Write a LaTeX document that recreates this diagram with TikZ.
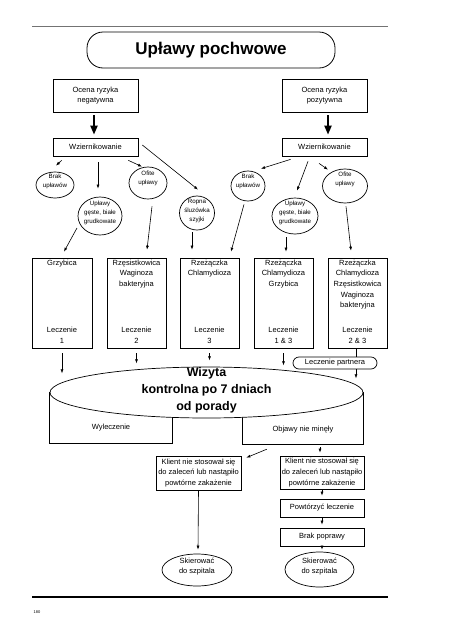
\documentclass[tikz,border=0pt]{standalone}
\usepackage{fontspec}
\setmainfont{Liberation Sans}
\usetikzlibrary{shapes.geometric,arrows.meta}
\begin{document}
\begin{tikzpicture}[x=1pt,y=-1pt,
  box/.style={draw, line width=0.7pt, rectangle, inner sep=0pt, align=center, font=\fontsize{7.5}{10.6}\selectfont},
  plain/.style={rectangle, inner sep=0pt},
  ell/.style={draw, ellipse, line width=0.7pt, inner sep=0pt},
  elbl/.style={align=center, inner sep=0pt, font=\fontsize{6.2}{9.2}\selectfont},
  blbl/.style={align=center, inner sep=0pt, font=\fontsize{7.5}{10.6}\selectfont},
  wlbl/.style={align=center, inner sep=0pt, font=\fontsize{12.5}{17}\selectfont\bfseries},
  arr/.style={-{Latex[length=4pt,width=3pt]}, line width=0.6pt},
  bigarr/.style={-{Triangle[length=9pt,width=7pt]}, line width=2pt},
  outline/.style={line width=0.7pt}
]
\useasboundingbox (0,0) rectangle (452,640);
\draw[black!55, line width=1.3pt] (32,26.7) -- (388,26.7);
\draw[line width=1.3pt] (32,597) -- (388,597);
\node[font=\fontsize{4}{4}\selectfont, inner sep=0pt] (pg) at (37,612) {180};

% title
\node[draw, rounded corners=16pt, minimum width=248pt, minimum height=36pt, inner sep=0pt, line width=0.8pt,
      font=\fontsize{17}{19}\selectfont\bfseries] (title) at (211,50) {Upławy pochwowe};

% risk boxes
\node[box, minimum width=85pt, minimum height=33pt] (neg) at (95.5,95.5) {Ocena ryzyka\\negatywna};
\node[box, minimum width=85pt, minimum height=33pt] (poz) at (324.5,95.5) {Ocena ryzyka\\pozytywna};
\node[box, minimum width=85pt, minimum height=18pt] (wz1) at (95.5,147) {Wziernikowanie};
\node[box, minimum width=85pt, minimum height=18pt] (wz2) at (324.5,147) {Wziernikowanie};
\draw[bigarr] ([shift={(-1.5,3)}]neg.south) -- ([shift={(-1.5,-3)}]wz1.north);
\draw[bigarr] ([shift={(3.5,3)}]poz.south) -- ([shift={(3.5,-3)}]wz2.north);

% ellipses left
\node[ell, minimum width=38pt, minimum height=26pt, label={[elbl,yshift=4pt]center:Brak\\upławów}] (brak1) at (55,185) {};
\node[ell, minimum width=44pt, minimum height=38pt, label={[elbl,yshift=3.3pt]center:Upławy\\gęste, białe\\grudkowate}] (gest1) at (100,216) {};
\node[ell, minimum width=38pt, minimum height=32pt, label={[elbl,yshift=4.5pt]center:Ofite\\upławy}] (ofite1) at (148,183) {};
\node[ell, minimum width=35pt, minimum height=34pt, label={[elbl,yshift=2pt]center:Ropna\\śluzówka\\szyjki}] (ropna) at (197,213) {};
% ellipses right
\node[ell, minimum width=34pt, minimum height=30pt, label={[elbl,yshift=5pt]center:Brak\\upławów}] (brak2) at (248,186) {};
\node[ell, minimum width=46pt, minimum height=36pt, label={[elbl,yshift=3.3pt]center:Upławy\\gęste, białe\\grudkowate}] (gest2) at (295,216) {};
\node[ell, minimum width=45pt, minimum height=34pt, label={[elbl,yshift=7pt]center:Ofite\\upławy}] (ofite2) at (345,186) {};

% diagnosis boxes
\node[box, minimum width=60pt, minimum height=90pt,
  label={[blbl,anchor=north,yshift=-2pt]north:Grzybica},
  label={[blbl,anchor=south,yshift=5pt]south:Leczenie\\1}] (b1) at (62,303) {};
\node[box, minimum width=59pt, minimum height=90pt,
  label={[blbl,anchor=north,yshift=-2pt]north:Rzęsistkowica\\Waginoza\\bakteryjna},
  label={[blbl,anchor=south,yshift=5pt]south:Leczenie\\2}] (b2) at (136.5,303) {};
\node[box, minimum width=59pt, minimum height=90pt,
  label={[blbl,anchor=north,yshift=-2pt]north:Rzeżączka\\Chlamydioza},
  label={[blbl,anchor=south,yshift=5pt]south:Leczenie\\3}] (b3) at (209.5,303) {};
\node[box, minimum width=59pt, minimum height=90pt,
  label={[blbl,anchor=north,yshift=-2pt]north:Rzeżączka\\Chlamydioza\\Grzybica},
  label={[blbl,anchor=south,yshift=5pt]south:Leczenie\\1 \& 3}] (b4) at (283.5,303) {};
\node[box, minimum width=59pt, minimum height=90pt,
  label={[blbl,anchor=north,yshift=-2pt]north:Rzeżączka\\Chlamydioza\\Rzęsistkowica\\Waginoza\\bakteryjna},
  label={[blbl,anchor=south,yshift=5pt]south:Leczenie\\2 \& 3}] (b5) at (357.5,303) {};

% connectors upper left
\draw[arr] ([shift={(9,4)}]wz1.south west) -- ([shift={(1,-6)}]brak1.north);
\draw[arr] ([shift={(2.5,6)}]wz1.south) -- ([shift={(-2,-8)}]gest1.north);
\draw[arr] ([shift={(-10,4)}]wz1.south east) -- ([shift={(-6,0)}]ofite1.north);
\draw[arr] ([shift={(4,-2)}]wz1.east) -- ([shift={(1,-6)}]ropna.north);
\draw[arr] ([shift={(-23,12)}]gest1.center) -- ([shift={(2,-6)}]b1.north);
\draw[arr] ([shift={(4,7)}]ofite1.south) -- ([shift={(10.5,-8)}]b2.north);
\draw[arr] ([shift={(-5,2)}]ropna.south) -- ([shift={(-17.5,-8)}]b3.north);
% connectors upper right
\draw[arr] ([shift={(9,3)}]wz2.south west) -- ([shift={(13,-2)}]brak2.north);
\draw[arr] ([shift={(-16.5,5)}]wz2.south) -- ([shift={(2,-7)}]gest2.north);
\draw[arr] ([shift={(-5.5,7)}]wz2.south) -- ([shift={(-17,1)}]ofite2.north);
\draw[arr] ([shift={(-4,3)}]brak2.south) -- ([shift={(21.5,-6)}]b3.north);
\draw[arr] ([shift={(-9,3)}]gest2.south) -- ([shift={(2.5,-6)}]b4.north);
\draw[arr] ([shift={(1,3)}]ofite2.south) -- ([shift={(-6.5,-7)}]b5.north);

% visit: cylinder parts
\node[plain, minimum width=122pt, minimum height=51pt, label={[blbl,yshift=-10.5pt]center:Wyleczenie}] (wyl) at (111,417.5) {};
\draw[outline] (wyl.north west) -- (wyl.south west) -- (wyl.south east) -- (wyl.north east);
\node[plain, minimum width=120pt, minimum height=52pt, label={[blbl,yshift=-12pt]center:Objawy nie minęły}] (obj) at (303,418) {};
\draw[outline] (obj.north west) -- (obj.south west) -- (obj.south east) -- (obj.north east);
\node[ell, fill=white, minimum width=313pt, minimum height=51pt,
  label={[wlbl,yshift=2.5pt]center:Wizyta\\kontrolna po 7 dniach\\od porady}] (wiz) at (206.5,392.5) {};

% partner treatment
\node[box, rounded corners=6pt, minimum width=84pt, minimum height=12pt] (pam) at (335,363) {Leczenie partnera};
\draw[line width=0.6pt] ([xshift=-1.5pt]b5.south) -- ([xshift=-1.5pt]b5.south |- pam.north);
\draw[arr] ([xshift=-1.5pt]b5.south |- pam.south) -- ([shift={(-1.5,9)}]b5.south |- pam.south);

% arrows from diagnosis boxes to visit
\draw[arr] ([shift={(0,5)}]b1.south) -- ([shift={(0,25)}]b1.south);
\draw[arr] ([shift={(0,5)}]b2.south) -- ([shift={(0,15)}]b2.south);
\draw[arr] ([shift={(0,5)}]b3.south) -- ([shift={(0,12)}]b3.south);
\draw[arr] ([shift={(0,5)}]b4.south) -- ([shift={(0,17)}]b4.south);

% lower boxes
\node[box, minimum width=85pt, minimum height=34pt] (kl1) at (198.5,473) {Klient nie stosował się\\do zaleceń lub nastąpiło\\powtórne zakażenie};
\node[box, minimum width=84pt, minimum height=33pt] (kl2) at (322,472.5) {Klient nie stosował się\\do zaleceń lub nastąpiło\\powtórne zakażenie};
\node[box, minimum width=84pt, minimum height=18pt] (powt) at (322,508) {Powtórzyć leczenie};
\node[box, minimum width=84pt, minimum height=18pt] (brakp) at (322,537) {Brak poprawy};
\node[ell, minimum width=70pt, minimum height=32pt, label={[blbl,yshift=3.5pt]center:Skierować\\do szpitala}] (sk1) at (197,570) {};
\node[ell, minimum width=69pt, minimum height=35pt, label={[blbl,yshift=3pt]center:Skierować\\do szpitala}] (sk2) at (319.5,569.5) {};

\draw[arr] ([shift={(24,5)}]obj.south west) -- ([shift={(5,2)}]kl1.north east);
\draw[arr] ([shift={(17,3)}]obj.south) -- ([shift={(-2,-3)}]kl2.north);
\draw[arr] (kl1.south) -- ([shift={(1,-4)}]sk1.north);
\draw[arr] (kl2.south) -- ([shift={(0,-3)}]powt.north);
\draw[arr] (powt.south) -- ([shift={(0,-3)}]brakp.north);
\draw[arr] (brakp.south) -- ([shift={(0,-2)}]brakp.south |- sk2.north);
\end{tikzpicture}
\end{document}
